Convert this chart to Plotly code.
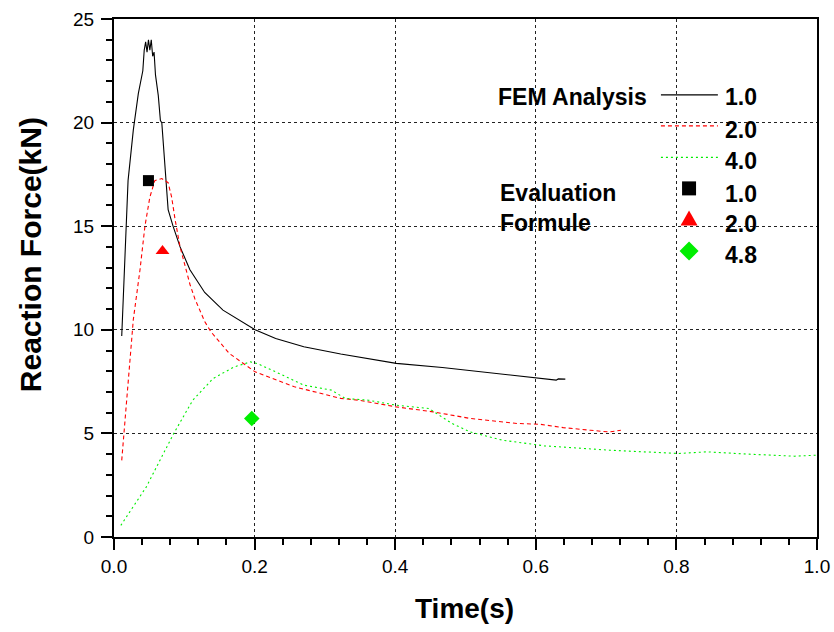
import plotly.graph_objects as go

# ---------------- data ----------------
# FEM Analysis, 1.0
t_fem_10 = [0.011, 0.012, 0.020, 0.0275, 0.0346, 0.041, 0.043, 0.045, 0.047, 0.049, 0.051, 0.053,
            0.055, 0.057, 0.059, 0.063, 0.066, 0.068, 0.070, 0.0725, 0.077, 0.084, 0.094, 0.108,
            0.129, 0.155, 0.175, 0.2007, 0.230, 0.270, 0.3225, 0.4015, 0.467, 0.520, 0.599,
            0.629, 0.632, 0.642]
f_fem_10 = [9.7, 10.5, 17.2, 19.65, 21.4, 22.5, 23.5, 23.9, 23.4, 24.0, 23.5, 24.0,
            23.2, 23.4, 22.3, 21.3, 20.1, 20.0, 19.0, 17.9, 15.8, 15.0, 14.0, 12.9,
            11.8, 10.95, 10.55, 10.0, 9.58, 9.18, 8.83, 8.38, 8.18, 7.97, 7.68,
            7.57, 7.63, 7.62]

# FEM Analysis, 2.0
t_fem_20 = [0.011, 0.0275, 0.037, 0.044, 0.051, 0.058, 0.068, 0.077, 0.082, 0.087, 0.094,
            0.108, 0.115, 0.129, 0.138, 0.164, 0.2007, 0.2566, 0.3225, 0.349, 0.4015, 0.454,
            0.507, 0.573, 0.606, 0.639, 0.678, 0.704, 0.721]
f_fem_20 = [3.7, 10.5, 12.9, 15.0, 16.4, 17.2, 17.3, 17.1, 16.4, 15.3, 14.0,
            12.2, 11.5, 10.4, 9.9, 8.86, 7.97, 7.25, 6.69, 6.6, 6.28, 6.04,
            5.72, 5.48, 5.44, 5.28, 5.15, 5.07, 5.15]

# FEM Analysis, 4.0
t_fem_40 = [0.0097, 0.046, 0.085, 0.112, 0.141, 0.171, 0.194, 0.204, 0.230, 0.270, 0.309,
            0.329, 0.362, 0.4015, 0.448, 0.4807, 0.507, 0.553, 0.612, 0.705, 0.803, 0.843,
            0.902, 0.968, 1.0]
f_fem_40 = [0.56, 2.42, 5.0, 6.6, 7.65, 8.21, 8.45, 8.37, 7.97, 7.33, 7.09,
            6.69, 6.6, 6.36, 6.2, 5.48, 5.07, 4.67, 4.40, 4.19, 4.03, 4.11,
            4.0, 3.9, 3.95]

# Evaluation Formule
t_eval = [0.049, 0.069, 0.196]
f_eval = [17.2, 13.8, 5.72]
eval_labels = ["1.0", "2.0", "4.8"]
fem_labels = ["1.0", "2.0", "4.0"]

x_ticks = [0.0, 0.2, 0.4, 0.6, 0.8, 1.0]
x_ticklabels = ["0.0", "0.2", "0.4", "0.6", "0.8", "1.0"]
y_ticks = [0, 5, 10, 15, 20, 25]

# ---------------- styling ----------------
FONT = "Liberation Sans, Arial, sans-serif"
BLACK = "#000000"
RED = "#ff0000"
GREEN = "#00ee00"

fig = go.Figure()
fig.add_trace(go.Scatter(x=t_fem_10, y=f_fem_10, mode="lines",
                         line=dict(color=BLACK, width=1.1), showlegend=False))
fig.add_trace(go.Scatter(x=t_fem_20, y=f_fem_20, mode="lines",
                         line=dict(color=RED, width=1.1, dash="4px,3px"), showlegend=False))
fig.add_trace(go.Scatter(x=t_fem_40, y=f_fem_40, mode="lines",
                         line=dict(color=GREEN, width=1.1, dash="2px,3px"), showlegend=False))
fig.add_trace(go.Scatter(x=t_eval, y=f_eval, mode="markers", showlegend=False,
                         marker=dict(symbol=["square", "triangle-up", "diamond"],
                                     size=[11, 12, 12], color=[BLACK, RED, GREEN],
                                     opacity=1, line=dict(width=0))))

axis_common = dict(
    showline=True, linecolor=BLACK, linewidth=2, mirror=True,
    ticks="outside", ticklen=11, tickwidth=2, tickcolor=BLACK,
    showgrid=True, gridcolor="#222222", gridwidth=1, griddash="dot",
    zeroline=False, automargin=False,
    tickfont=dict(family=FONT, size=19, color=BLACK),
)

fig.update_layout(
    width=834, height=632,
    margin=dict(l=114, r=17, t=19, b=95, autoexpand=False),
    paper_bgcolor="white", plot_bgcolor="white",
    showlegend=False,
    xaxis=dict(range=[0, 1], tickvals=x_ticks, ticktext=x_ticklabels,
               minor=dict(dtick=0.04, tick0=0, ticks="outside", ticklen=6, tickwidth=2,
                          tickcolor=BLACK, showgrid=False),
               **axis_common),
    yaxis=dict(range=[0, 25], tickvals=y_ticks,
               minor=dict(dtick=1, tick0=0, ticks="outside", ticklen=6, tickwidth=2,
                          tickcolor=BLACK, showgrid=False),
               ticklabelstandoff=3,
               **axis_common),
    xaxis2=dict(range=[0, 1], overlaying="x", anchor="y", side="top",
                tickvals=x_ticks, ticks="inside", ticklen=6, tickwidth=1, tickcolor=BLACK,
                minor=dict(dtick=0.04, tick0=0, ticks="inside", ticklen=3, tickwidth=1,
                           tickcolor=BLACK),
                showticklabels=False, showgrid=False, zeroline=False, showline=False),
    yaxis2=dict(range=[0, 25], overlaying="y", anchor="x", side="right",
                tickvals=y_ticks, ticks="inside", ticklen=6, tickwidth=1, tickcolor=BLACK,
                minor=dict(dtick=1, tick0=0, ticks="inside", ticklen=3, tickwidth=1,
                           tickcolor=BLACK),
                showticklabels=False, showgrid=False, zeroline=False, showline=False),
)

# axis titles
fig.add_annotation(text="<b>Reaction Force(kN)</b>", textangle=-90,
                   xref="paper", yref="paper", x=-0.1195, y=0.546,
                   xanchor="center", yanchor="middle", showarrow=False,
                   font=dict(family=FONT, size=30, color=BLACK))
fig.add_annotation(text="<b>Time(s)</b>",
                   xref="paper", yref="paper", x=0.498, y=-0.1377,
                   xanchor="center", yanchor="middle", showarrow=False,
                   font=dict(family=FONT, size=28, color=BLACK))

# ---------------- custom legend ----------------
LF = dict(family=FONT, size=23, color=BLACK)

def txt(s, x, y):
    fig.add_annotation(text="<b>%s</b>" % s, xref="paper", yref="paper", x=x, y=y,
                       xanchor="left", yanchor="middle", showarrow=False, font=LF)

txt("FEM Analysis", 0.543, 0.850)
txt("Evaluation", 0.546, 0.6645)
txt("Formule", 0.546, 0.6065)

line_rows = [(0.8535, BLACK, "solid"), (0.7935, RED, "4px,3px"), (0.733, GREEN, "2px,3px")]
fem_text_y = [0.849, 0.785, 0.726]
for (yy, col, dash), lab, ty in zip(line_rows, fem_labels, fem_text_y):
    fig.add_shape(type="line", xref="paper", yref="paper", x0=0.778, x1=0.859, y0=yy, y1=yy,
                  line=dict(color=col, width=1.2, dash=dash))
    txt(lab, 0.866, ty)

sym_x = 0.818
fig.add_shape(type="rect", xref="paper", yref="paper", xsizemode="pixel", ysizemode="pixel",
              xanchor=sym_x, yanchor=0.673, x0=-7, x1=7, y0=-7, y1=7,
              fillcolor=BLACK, line=dict(width=0))
fig.add_shape(type="path", xref="paper", yref="paper", xsizemode="pixel", ysizemode="pixel",
              xanchor=sym_x, yanchor=0.615, path="M-8.5,-7 L8.5,-7 L0,8 Z",
              fillcolor=RED, line=dict(width=0))
fig.add_shape(type="path", xref="paper", yref="paper", xsizemode="pixel", ysizemode="pixel",
              xanchor=sym_x, yanchor=0.552, path="M0,-9.5 L9.5,0 L0,9.5 L-9.5,0 Z",
              fillcolor=GREEN, line=dict(width=0))
for lab, ty in zip(eval_labels, [0.663, 0.604, 0.544]):
    txt(lab, 0.866, ty)

# remove the default 8px page margin so the 834x632 figure fills the window exactly
fig.write_html("out.html",
               config={"displayModeBar": False},
               post_script="document.body.style.margin='0';document.body.style.overflow='hidden';")
